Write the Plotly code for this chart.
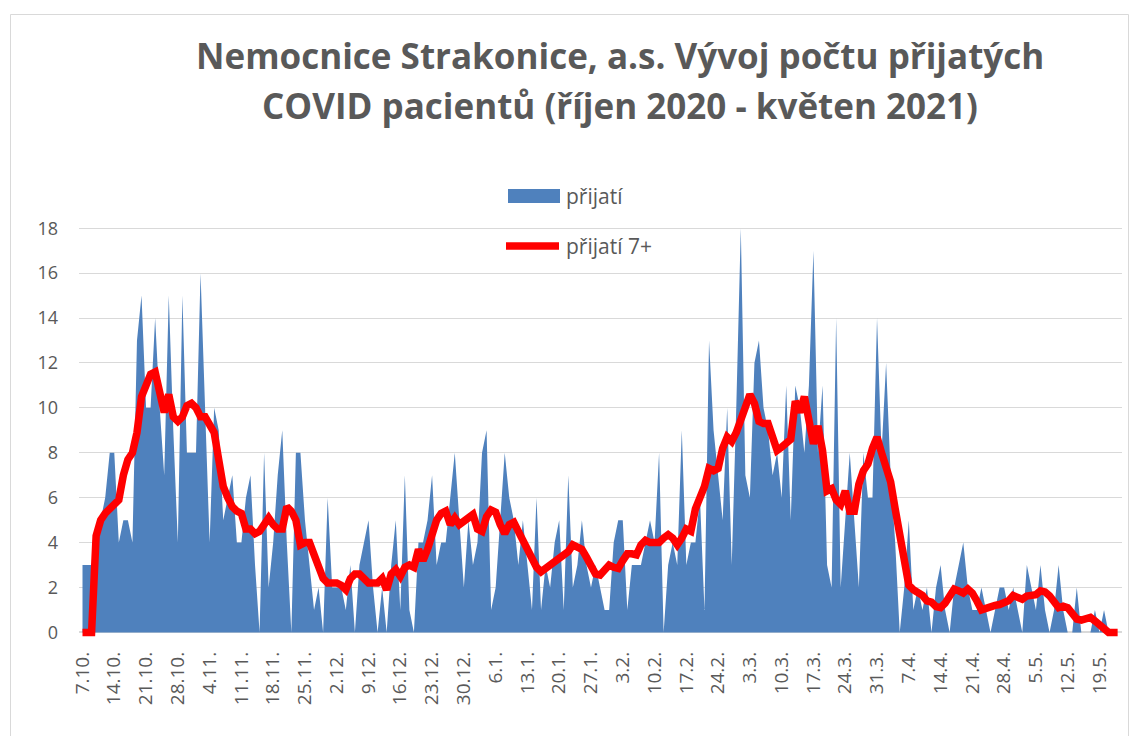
import plotly.graph_objects as go

# ---------------- data ----------------
# daily admissions, 7.10.2020 ... 23.5.2021
prijati = [
    3, 3, 3, 4, 5, 6, 8, 8, 4, 5, 5, 4, 13, 15, 10, 10, 14, 10, 7, 15, 9, 4, 15, 8, 8, 8, 16, 10, 4, 10,
    9, 5, 6, 7, 4, 4, 6, 7, 3, 0, 8, 2, 4, 7, 9, 4, 0, 8, 8, 5, 3, 1, 2, 0, 6, 2, 2, 2, 1, 3,
    0, 3, 4, 5, 2, 0, 2, 0, 3, 5, 1, 7, 1, 0, 4, 4, 5, 7, 3, 4, 4, 6, 8, 5, 2, 5, 3, 4, 8, 9,
    1, 2, 5, 8, 6, 5, 3, 5, 3, 1, 6, 1, 3, 2, 4, 5, 1, 7, 2, 3, 5, 3, 2, 3, 2, 1, 1, 4, 5, 5,
    1, 3, 3, 3, 4, 5, 4, 8, 0, 3, 4, 3, 9, 3, 4, 4, 6, 1, 13, 9, 7, 5, 10, 3, 10, 18, 7, 6, 12, 13,
    10, 9, 7, 8, 6, 11, 5, 11, 10, 8, 11, 17, 8, 11, 3, 2, 14, 2, 5, 8, 5, 2, 8, 6, 6, 14, 8, 12, 7, 4,
    0, 2, 5, 1, 2, 1, 2, 0, 2, 3, 1, 0, 2, 3, 4, 2, 1, 1, 2, 1, 0, 1, 2, 2, 1, 2, 1, 0, 3, 2,
    1, 3, 1, 0, 1, 3, 1, 0, 0, 2, 0, 0, 0, 1, 0, 1, 0, 0, 0,
]

# "přijatí 7+" red line values
prijati_7 = [
    0, 0, 0, 4.3, 5.0, 5.3, 5.5, 5.7, 5.9, 7.0, 7.7, 8.0, 8.9, 10.5, 11.1, 11.5, 11.6, 10.6, 9.8, 10.6,
    9.6, 9.4, 9.6, 10.1, 10.2, 10.0, 9.6, 9.6, 9.2, 8.9,
    7.7, 6.5, 6.0, 5.6, 5.4, 5.3, 4.6, 4.6, 4.4, 4.5, 4.8, 5.1, 4.8, 4.6, 4.6, 5.6, 5.4, 5.0, 3.9, 4.0,
    4.0, 3.5, 2.8, 2.4, 2.2, 2.2, 2.2, 2.1, 1.9, 2.4,
    2.6, 2.6, 2.4, 2.2, 2.2, 2.2, 2.4, 1.9, 2.6, 2.8, 2.5, 2.9, 3.0, 2.9, 3.7, 3.2, 3.7, 4.4, 5.0, 5.3,
    5.4, 4.8, 5.1, 4.8, 5.0, 5.1, 5.25, 4.6, 4.5, 5.15,
    5.45, 5.35, 4.8, 4.4, 4.8, 4.9, 4.5, 4.1, 3.55, 3.2, 2.9, 2.7, 2.85, 3.0, 3.1, 3.25, 3.4, 3.6, 3.9, 3.8,
    3.7, 3.35, 2.9, 2.6, 2.55, 2.8, 3.0, 2.9, 2.85, 3.2,
    3.5, 3.5, 3.45, 3.9, 4.1, 4.0, 4.0, 4.0, 4.2, 4.35, 4.2, 3.9, 4.2, 4.6, 4.5, 5.5, 6.0, 6.5, 7.3, 7.2,
    7.3, 8.2, 8.7, 8.5, 8.9, 9.5, 10.2, 10.6, 10.2, 9.4,
    9.3, 9.3, 8.7, 8.1, 8.25, 8.4, 8.6, 10.3, 9.8, 10.5, 9.5, 8.4, 9.2, 8.1, 6.3, 6.4, 5.9, 5.7, 6.3, 5.4,
    5.4, 6.6, 7.2, 7.5, 8.2, 8.7, 8.0, 7.2, 6.7, 5.5,
    4.2, 2.9, 2.1, 1.9, 1.8, 1.65, 1.4, 1.35, 1.15, 1.1, 1.3, 1.7, 1.93, 1.85, 1.75, 1.93, 1.75, 1.4, 1.0, 1.07,
    1.17, 1.2, 1.24, 1.36, 1.41, 1.64, 1.6, 1.48, 1.62, 1.68,
    1.68, 1.85, 1.8, 1.63, 1.36, 1.1, 1.17, 1.1, 0.85, 0.59, 0.55, 0.59, 0.67, 0.51, 0.34, 0.23, 0, 0, 0,
]

tick_labels = [
    "7.10.", "14.10.", "21.10.", "28.10.", "4.11.", "11.11.", "18.11.", "25.11.",
    "2.12.", "9.12.", "16.12.", "23.12.", "30.12.", "6.1.", "13.1.", "20.1.",
    "27.1.", "3.2.", "10.2.", "17.2.", "24.2.", "3.3.", "10.3.", "17.3.",
    "24.3.", "31.3.", "7.4.", "14.4.", "21.4.", "28.4.", "5.5.", "12.5.", "19.5.",
]
y_ticks = [0, 2, 4, 6, 8, 10, 12, 14, 16, 18]

title_line1 = "Nemocnice Strakonice, a.s. Vývoj počtu přijatých"
title_line2 = "COVID pacientů (říjen 2020 - květen 2021)"
legend_names = ["přijatí", "přijatí 7+"]

# ---------------- styling ----------------
BLUE = "#4F81BD"
RED = "#FF0000"
GREY_TXT = "#595959"
GRID = "#D9D9D9"
FONT = "Open Sans"

W, H = 1133, 736
PL, PR, PT, PB = 79, 1122, 226, 638  # plot area in pixels


def px(xp):
    return (xp - PL) / (PR - PL)


def py(yp):
    return (PB - yp) / (PB - PT)


days = list(range(len(prijati)))
tick_days = [7 * i for i in range(len(tick_labels))]

fig = go.Figure()
fig.add_trace(go.Scatter(
    x=days, y=prijati, mode="lines", name=legend_names[0],
    line=dict(width=0, color=BLUE), fill="tozeroy", fillcolor=BLUE,
    showlegend=False, hoverinfo="x+y",
))
fig.add_trace(go.Scatter(
    x=days, y=prijati_7, mode="lines", name=legend_names[1],
    line=dict(width=7.5, color=RED), showlegend=False,
))

fig.update_layout(
    width=W, height=H, autosize=False,
    margin=dict(l=PL, r=W - PR, t=PT, b=H - PB, pad=0),
    paper_bgcolor="white", plot_bgcolor="white",
    font=dict(family=FONT, color=GREY_TXT),
    xaxis=dict(
        range=[-0.77, 228.96], tickmode="array", tickvals=tick_days, ticktext=tick_labels,
        tickangle=-90, showgrid=False, zeroline=False, showline=False, ticks="",
        tickfont=dict(family=FONT, size=19, color=GREY_TXT), ticklabelstandoff=9,
    ),
    yaxis=dict(
        range=[-0.25, 18.1], tickmode="array", tickvals=y_ticks,
        showgrid=True, gridcolor=GRID, gridwidth=1,
        zeroline=True, zerolinecolor=GRID, zerolinewidth=1.5,
        showline=False, ticks="",
        tickfont=dict(family=FONT, size=18, color=GREY_TXT), ticklabelstandoff=20,
    ),
)

annotations = [
    dict(text="<b>" + title_line1 + "</b>", x=px(620), y=py(56), xref="paper", yref="paper",
         xanchor="center", yanchor="middle", showarrow=False,
         font=dict(family=FONT, size=35, color=GREY_TXT)),
    dict(text="<b>" + title_line2 + "</b>", x=px(620), y=py(106), xref="paper", yref="paper",
         xanchor="center", yanchor="middle", showarrow=False,
         font=dict(family=FONT, size=35, color=GREY_TXT)),
    dict(text=legend_names[0], x=px(564), y=py(196), xref="paper", yref="paper",
         xanchor="left", yanchor="middle", showarrow=False,
         font=dict(family=FONT, size=21, color=GREY_TXT)),
    dict(text=legend_names[1], x=px(564), y=py(246), xref="paper", yref="paper",
         xanchor="left", yanchor="middle", showarrow=False,
         font=dict(family=FONT, size=21, color=GREY_TXT)),
]

shapes = [
    dict(type="rect", xref="paper", yref="paper", x0=px(10.5), x1=px(1128.5), y0=py(760), y1=py(14.5),
         line=dict(color=GRID, width=1), fillcolor="rgba(0,0,0,0)", layer="below"),
    dict(type="rect", xref="paper", yref="paper", x0=px(508), x1=px(560), y0=py(203), y1=py(189),
         line=dict(width=0), fillcolor=BLUE, layer="above"),
    dict(type="line", xref="paper", yref="paper", x0=px(506), x1=px(559), y0=py(246), y1=py(246),
         line=dict(color=RED, width=7.5), layer="above"),
]

fig.update_layout(annotations=annotations, shapes=shapes)

fig.write_html(
    "out.html",
    config={"displayModeBar": False},
    post_script="document.body.style.margin='0px';document.body.style.overflow='hidden';",
)
